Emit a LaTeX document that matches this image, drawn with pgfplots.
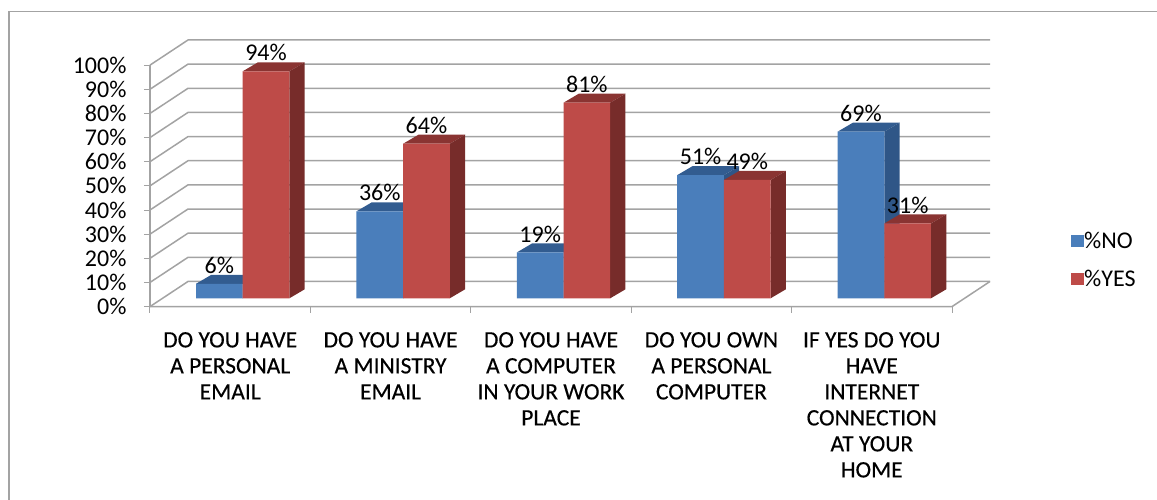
\documentclass[border=0pt]{standalone}
\usepackage{fontspec}
\setmainfont{Carlito}
\usepackage{pgfplots}
\usepackage{pgfplotstable}
\pgfplotsset{compat=1.18}

\definecolor{gridgray}{HTML}{A3A3A3}
\definecolor{frontblue}{HTML}{4A7EBB}
\definecolor{sideblue}{HTML}{2F5687}
\definecolor{topblue}{HTML}{325C90}
\definecolor{frontred}{HTML}{BE4B48}
\definecolor{sidered}{HTML}{772C2A}
\definecolor{topred}{HTML}{8A3432}

\newfontfamily\labelfont[FakeBold=0.35]{Carlito}

\pgfplotstableread{
xno    xyes   no  yes
0.4325 0.7235 6   94
1.4325 1.7235 36  64
2.4325 2.7235 19  81
3.4325 3.7235 51  49
4.4325 4.7235 69  31
}\surveydata

% depth of the fake 3D, axis units
\def\bw{0.291}
\def\ddx{0.0954}
\def\ddy{3.73}
\newcommand{\barfaces}[4]{%
  \pgfmathsetmacro\xb{#1+\bw}%
  \pgfmathsetmacro\xc{\xb+\ddx}%
  \pgfmathsetmacro\xd{#1+\ddx}%
  \pgfmathsetmacro\yt{#2+\ddy}%
  \edef\tmp{\noexpand\addplot[forget plot,fill=#3,draw=none] coordinates {(#1,#2) (\xb,#2) (\xc,\yt) (\xd,\yt)} --cycle;
    \noexpand\addplot[forget plot,fill=#4,draw=none] coordinates {(\xb,0) (\xc,\ddy) (\xc,\yt) (\xb,#2)} --cycle;}%
  \tmp
}
\newcommand{\wallline}[1]{%
  \addplot[forget plot,gridgray,line width=1.5pt] coordinates {(0,#1) (0.2369,#1+10.4) (5.2369,#1+10.4)};
}

\begin{document}
\begin{tikzpicture}
\useasboundingbox (-150pt,-193.4pt) rectangle (1007pt,306.6pt);
\draw[gridgray,line width=1.5pt] (-141pt,-193.4pt) -- (-141pt,294.9pt) -- (1007pt,294.9pt);
\begin{axis}[
    at={(0,0)}, anchor=south west,
    scale only axis,
    width=840pt, height=266.6pt,
    xmin=0, xmax=5.2369,
    ymin=-3.44, ymax=106.96,
    clip=false,
    axis line style={draw=none},
    tick style={gridgray,line width=1pt},
    tick align=outside,
    major tick length=6pt,
    xtick pos=bottom, ytick pos=left,
    xtick={0,1,2,3,4,5},
    x tick label as interval,
    xticklabels={
      {DO YOU HAVE\\A PERSONAL\\EMAIL},
      {DO YOU HAVE\\A MINISTRY\\EMAIL},
      {DO YOU HAVE\\A COMPUTER\\IN YOUR WORK\\PLACE},
      {DO YOU OWN\\A PERSONAL\\COMPUTER},
      {IF YES DO YOU\\HAVE\\INTERNET\\CONNECTION\\AT YOUR\\HOME}},
    xticklabel style={align=center,font=\labelfont\fontsize{23.5}{26}\selectfont,yshift=-16pt},
    ytick={-3.44,6.56,16.56,26.56,36.56,46.56,56.56,66.56,76.56,86.56,96.56},
    yticklabels={0\%,10\%,20\%,30\%,40\%,50\%,60\%,70\%,80\%,90\%,100\%},
    yticklabel style={font=\fontsize{24}{24}\selectfont,xshift=-14pt},
    legend style={at={(1.0964,0.281)},anchor=north west,draw=none,fill=none,inner sep=0pt,
      row sep=20pt,font=\fontsize{24}{24}\selectfont,
      nodes={inner sep=0pt,anchor=west,xshift=5pt}},
    legend cell align=left,
    legend image code/.code={\fill[#1] (0pt,-6pt) rectangle (13pt,6pt);},
    every node near coord/.append style={font=\fontsize{24}{24}\selectfont,text=black,inner sep=0pt,yshift=10pt},
    /pgf/number format/assume math mode=true,
]
% back wall and floor
\wallline{6.56}\wallline{16.56}\wallline{26.56}\wallline{36.56}\wallline{46.56}
\wallline{56.56}\wallline{66.56}\wallline{76.56}\wallline{86.56}\wallline{96.56}
\wallline{-3.44}
\addplot[forget plot,gridgray,line width=1.5pt] coordinates {(0,-3.44) (5,-3.44) (5.2369,6.96)};
\addplot[forget plot,gridgray,line width=1.5pt] coordinates {(0,-3.44) (0,96.56)};

% blue bars
\barfaces{0.287}{6}{topblue}{sideblue}
\barfaces{1.287}{36}{topblue}{sideblue}
\barfaces{2.287}{19}{topblue}{sideblue}
\barfaces{3.287}{51}{topblue}{sideblue}
\barfaces{4.287}{69}{topblue}{sideblue}
\addplot[ybar,bar width=0.291,bar shift=0pt,fill=frontblue,draw=none,
    nodes near coords={\pgfmathprintnumber{\pgfplotspointmeta}\%}]
    table[x=xno,y=no] {\surveydata};
\addlegendentry{\%NO}

% red bars
\barfaces{0.578}{94}{topred}{sidered}
\barfaces{1.578}{64}{topred}{sidered}
\barfaces{2.578}{81}{topred}{sidered}
\barfaces{3.578}{49}{topred}{sidered}
\barfaces{4.578}{31}{topred}{sidered}
\addplot[ybar,bar width=0.291,bar shift=0pt,fill=frontred,draw=none,
    nodes near coords={\pgfmathprintnumber{\pgfplotspointmeta}\%}]
    table[x=xyes,y=yes] {\surveydata};
\addlegendentry{\%YES}
\end{axis}
\end{tikzpicture}
\end{document}
